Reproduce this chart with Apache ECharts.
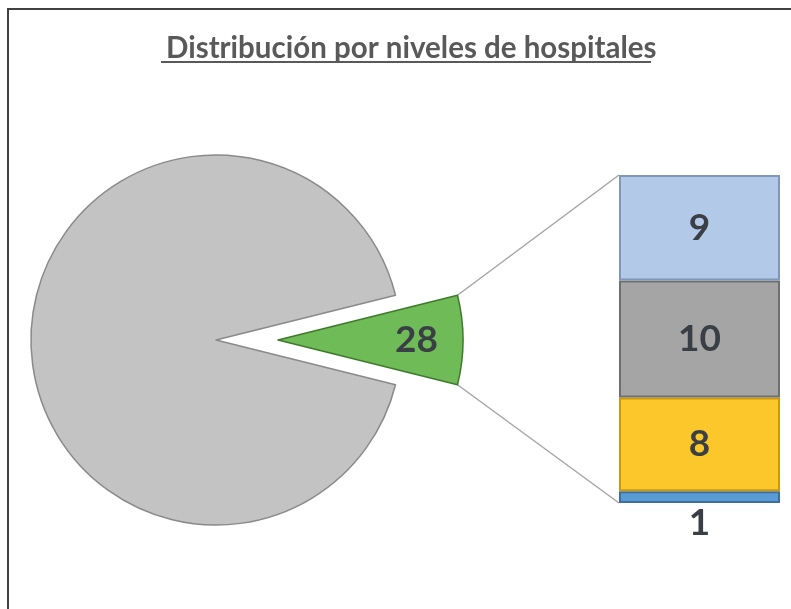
<!DOCTYPE html>
<html>
<head>
<meta charset="utf-8">
<script src="https://cdn.jsdelivr.net/npm/echarts@6/dist/echarts.min.js"></script>
<style>
	html, body { margin: 0; padding: 0; background: #ffffff; }
	#main { width: 791px; height: 609px; }
</style>
</head>
<body>
<div id="main"></div>
<script>
	// datos del pastel (la porcion verde es la suma de la barra)
	var pieNames = ['Otros niveles', 'Resto'];
	var pieValues = [28, 332];
	var pieColors = ['#6fbb57', '#c3c3c3'];

	// barra apilada, de abajo hacia arriba
	var barNames = ['Nivel 4', 'Nivel 3', 'Nivel 2', 'Nivel 1'];
	var barValues = [1, 8, 10, 9];
	var barColors = ['#5b9bd5', '#fcc72a', '#a5a5a5', '#b2c9e8'];
	var barBorders = ['#3d6f9e', '#c99a10', '#6f6f6f', '#7f97b8'];

	var pieCenter = [216, 340];
	var pieRadius = 185;
	var explode = 62;
	var half = pieValues[0] / (pieValues[0] + pieValues[1]) * 180;

	var myChart = echarts.init(document.getElementById('main'));

	var barSeries = barValues.map(function(v, i) {
		return {
			name: barNames[i],
			type: 'bar',
			stack: 'total',
			barWidth: '100%',
			data: [v],
			itemStyle: {
				color: barColors[i],
				borderColor: barBorders[i],
				borderWidth: 2
			},
			label: {
				show: true,
				position: i === 0 ? 'bottom' : 'inside',
				distance: 2,
				fontFamily: 'Lato',
				fontWeight: 'bold',
				fontSize: 37,
				color: '#3a3f45'
			},
			silent: true
		};
	});

	var option = {
		backgroundColor: '#ffffff',
		animation: false,
		title: {
			text: 'Distribución por niveles de hospitales',
			left: 161,
			top: 28,
			textStyle: {
				fontFamily: 'Lato',
				fontWeight: 'bold',
				fontSize: 29.5,
				color: '#595959'
			}
		},
		grid: {
			left: 619,
			top: 175,
			width: 161,
			height: 328
		},
		xAxis: {
			type: 'category',
			data: [''],
			show: false
		},
		yAxis: {
			type: 'value',
			min: 0,
			max: 28,
			show: false
		},
		series: [{
			type: 'pie',
			center: pieCenter,
			radius: [0, pieRadius],
			startAngle: half,
			clockwise: true,
			selectedMode: 'single',
			selectedOffset: explode,
			silent: true,
			data: pieValues.map(function(v, i) {
				return {
					name: pieNames[i],
					value: v,
					selected: i === 0,
					itemStyle: {
						color: pieColors[i],
						borderColor: i === 0 ? '#3f7a2c' : '#8a8a8a',
						borderWidth: 1.5
					},
					label: {
						show: i === 0,
						position: 'inside',
						padding: [0, 0, 0, 86],
						formatter: '{c}',
						fontFamily: 'Lato',
						fontWeight: 'bold',
						fontSize: 37,
						color: '#3a3f45'
					}
				};
			})
		}].concat(barSeries)
	};

	myChart.setOption(option);

	// lineas de union entre la porcion verde y la barra
	var a = half * Math.PI / 180;
	var arcX = pieCenter[0] + explode + pieRadius * Math.cos(a);
	var topPt = myChart.convertToPixel({ gridIndex: 0 }, [0, 28]);
	var botPt = myChart.convertToPixel({ gridIndex: 0 }, [0, 0]);
	var barLeft = 619;

	myChart.setOption({
		graphic: [{
			type: 'line',
			shape: { x1: arcX, y1: pieCenter[1] - pieRadius * Math.sin(a), x2: barLeft, y2: topPt[1] },
			style: { stroke: '#a6a6a6', lineWidth: 1.5 }
		}, {
			type: 'line',
			shape: { x1: arcX, y1: pieCenter[1] + pieRadius * Math.sin(a), x2: barLeft, y2: botPt[1] },
			style: { stroke: '#a6a6a6', lineWidth: 1.5 }
		}, {
			// subrayado del titulo
			type: 'line',
			shape: { x1: 161, y1: 62, x2: 651, y2: 62 },
			style: { stroke: '#595959', lineWidth: 2 }
		}, {
			// borde del grafico
			type: 'polyline',
			shape: { points: [[8, 609], [8, 9], [791, 9]] },
			style: { stroke: '#404040', lineWidth: 2, fill: null }
		}]
	});
</script>
</body>
</html>
